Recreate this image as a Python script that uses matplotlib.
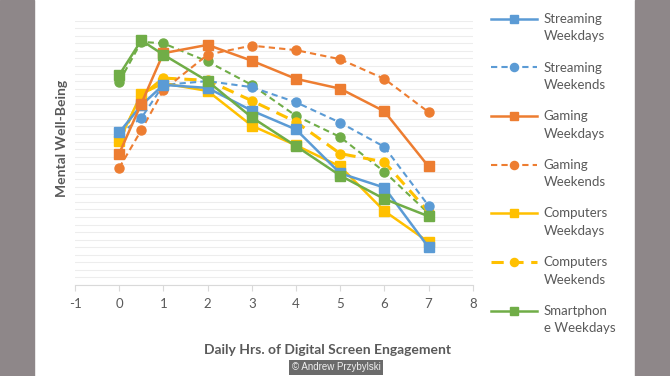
import matplotlib
matplotlib.use('Agg')
import matplotlib.pyplot as plt
from matplotlib.patches import Rectangle
from matplotlib.legend_handler import HandlerLine2D
from matplotlib.transforms import Affine2D

plt.rcParams['font.family'] = ['Lato', 'DejaVu Sans']
plt.rcParams['axes.unicode_minus'] = False

# hours of screen time
hours = [0, 0.5, 1, 2, 3, 4, 5, 6, 7]

# mental well-being (no scale printed on the chart, values read off the gridlines)
streaming_wd = [20.2, 23.8, 26.5, 26.1, 23.1, 20.6, 14.8, 12.9, 5.0]
streaming_we = [20.0, 22.1, 26.5, 27.0, 26.2, 24.2, 21.5, 18.3, 10.5]
gaming_wd = [17.4, 24.0, 30.7, 31.8, 29.7, 27.3, 26.0, 23.0, 15.7]
gaming_we = [15.5, 20.5, 25.8, 30.5, 31.7, 31.1, 29.9, 27.3, 22.9]
computers_wd = [19.1, 25.3, 26.7, 25.7, 21.1, 18.5, 15.7, 9.8, 5.7]
computers_we = [19.1, 25.0, 27.4, 27.1, 24.4, 21.6, 17.4, 16.3, 9.7]
smartphone_wd = [27.8, 32.4, 30.5, 27.0, 22.2, 18.4, 14.5, 11.4, 9.1]
smartphone_we = [26.9, 32.2, 32.0, 29.6, 26.5, 22.4, 19.6, 15.0, 9.5]

legend_labels = ['Streaming\nWeekdays', 'Streaming\nWeekends', 'Gaming\nWeekdays', 'Gaming\nWeekends',
                 'Computers\nWeekdays', 'Computers\nWeekends', 'Smartphon\ne Weekdays']

blue = '#5B9BD5'
orange = '#ED7D31'
yellow = '#FFC000'
green = '#70AD47'
txt = '#595959'


class TopLineHandler(HandlerLine2D):
    # puts the legend sample level with the first line of a two-line label
    def create_artists(self, legend, orig_handle, xdescent, ydescent, width, height, fontsize, trans):
        arts = super().create_artists(legend, orig_handle, xdescent, ydescent, width, height, fontsize, trans)
        for a in arts:
            a.set_transform(Affine2D().translate(0, 6.6) + trans)
        return arts


fig = plt.figure(figsize=(6.7, 3.76), dpi=100)
fig.patch.set_facecolor('white')
# grey frame left and right of the picture
fig.patches.append(Rectangle((0, 0), 34 / 670, 1, transform=fig.transFigure, color='#8e8789', zorder=0))
fig.patches.append(Rectangle((635 / 670, 0), 35 / 670, 1, transform=fig.transFigure, color='#8e8789', zorder=0))

ax = fig.add_axes([75 / 670, 91 / 376, 397.7 / 670, 264.3 / 376])

ms = 6.5
lw = 1.8
ax.plot(hours, smartphone_we, color=green, lw=1.5, dashes=(3, 2), marker='o', ms=ms, zorder=3)
l_cwe, = ax.plot(hours, computers_we, color=yellow, lw=2.2, dashes=(4, 2.5), marker='o', ms=ms, zorder=3)
l_gwe, = ax.plot(hours, gaming_we, color=orange, lw=1.5, dashes=(3, 2), marker='o', ms=ms, zorder=3)
l_swe, = ax.plot(hours, streaming_we, color=blue, lw=1.5, dashes=(3, 2), marker='o', ms=ms, zorder=3)
l_cwd, = ax.plot(hours, computers_wd, color=yellow, lw=lw, marker='s', ms=ms, zorder=4)
l_swd, = ax.plot(hours, streaming_wd, color=blue, lw=lw, marker='s', ms=ms, zorder=4)
l_gwd, = ax.plot(hours, gaming_wd, color=orange, lw=lw, marker='s', ms=ms, zorder=4)
l_pwd, = ax.plot(hours, smartphone_wd, color=green, lw=lw, marker='s', ms=ms, zorder=4)

ax.set_xlim(-1, 8)
ax.set_ylim(0, 35)
ax.set_xticks(range(-1, 9))
ax.set_yticks(range(0, 36))
ax.tick_params(axis='y', left=False, labelleft=False)
ax.tick_params(axis='x', colors='#d9d9d9', labelcolor=txt, labelsize=9.5, length=4, pad=5)
ax.yaxis.grid(True, color='#ededed', lw=0.8)
ax.set_axisbelow(True)
for s in ['left', 'right', 'top']:
    ax.spines[s].set_visible(False)
ax.spines['bottom'].set_color('#d9d9d9')

handles = [l_swd, l_swe, l_gwd, l_gwe, l_cwd, l_cwe, l_pwd]
leg = fig.legend(handles, legend_labels, loc='upper left',
                 bbox_to_anchor=(479 / 670, 1 - 1 / 376), frameon=False,
                 fontsize=9.5, labelcolor=txt, handlelength=3.5, handletextpad=0.5,
                 labelspacing=1.45, markerscale=0.9,
                 handler_map={h: TopLineHandler() for h in handles})
for t in leg.get_texts():
    t.set_linespacing(1.55)

fig.text(62 / 670, 1 - 138 / 376, 'Mental Well-Being', rotation=90, ha='center', va='center',
         fontsize=10, color=txt, fontweight='bold')
fig.text(328 / 670, 1 - 350 / 376, 'Daily Hrs. of Digital Screen Engagement', ha='center',
         va='center', fontsize=10, color=txt, fontweight='bold')
fig.text(336 / 670, 1 - 367.5 / 376, '\u00a9 Andrew Przybylski', ha='center', va='center',
         fontsize=7, color='#f0f0f0', family='Liberation Sans',
         bbox=dict(boxstyle='square,pad=0.3', fc='#6b6b6b', ec='none'))

plt.savefig('out.png', dpi=100)
